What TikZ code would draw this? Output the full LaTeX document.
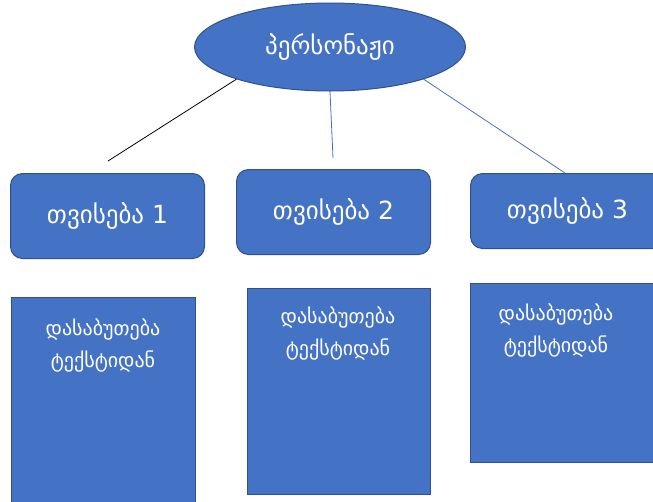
\documentclass[tikz,border=0pt]{standalone}
\usepackage{fontspec}
\usetikzlibrary{shapes.geometric}
\newfontfamily\geo{DejaVu Sans}
\definecolor{ofblue}{HTML}{4472C4}
\definecolor{ofedge}{HTML}{2F528F}
\tikzset{
  hdr/.style={draw=ofedge, line width=1pt, fill=ofblue, text=white, font=\geo\fontsize{25}{28}\selectfont, inner sep=0pt},
  prop/.style={hdr, rounded corners=12pt, anchor=north west},
  evid/.style={draw=ofedge, line width=1.2pt, fill=ofblue, anchor=north west, inner sep=0pt},
  evtext/.style={text=white, font=\geo\fontsize{20}{32}\selectfont, align=center, inner sep=0pt},
  conn/.style={line width=0.8pt}
}
\begin{document}
\begin{tikzpicture}[x=1pt,y=-1pt]
\useasboundingbox (0,0) rectangle (653,501);
\clip (0,0) rectangle (653,501);
\node[hdr, ellipse, minimum width=271pt, minimum height=88pt] (e) at (330,47) {პერსონაჟი};
\node[prop, minimum width=194pt, minimum height=85pt] (p1) at (10,173) {თვისება 1};
\node[prop, minimum width=194pt, minimum height=85pt] (p2) at (236,169) {თვისება 2};
\node[prop, minimum width=194pt, minimum height=75pt] (p3) at (470,173) {თვისება 3};
\node[evid, minimum width=184pt, minimum height=210pt] (d1) at (11,297) {};
\node[evid, minimum width=183pt, minimum height=206pt] (d2) at (247,288) {};
\node[evid, minimum width=190pt, minimum height=179pt] (d3) at (470,283) {};
\node[evtext] (t1) at (103,345) {დასაბუთება\\ტექსტიდან};
\node[evtext] (t2) at (338,333) {დასაბუთება\\ტექსტიდან};
\node[evtext] (t3) at (556,330) {დასაბუთება\\ტექსტიდან};
\coordinate (c1) at (108,161);
\coordinate (c2) at (333,158);
\draw[conn, black] (e.199) -- (c1);
\draw[conn, ofblue] (e.south) -- (c2);
\draw[conn, ofblue] (e.341) -- (p3.north west -| 565,0);
\end{tikzpicture}
\end{document}
